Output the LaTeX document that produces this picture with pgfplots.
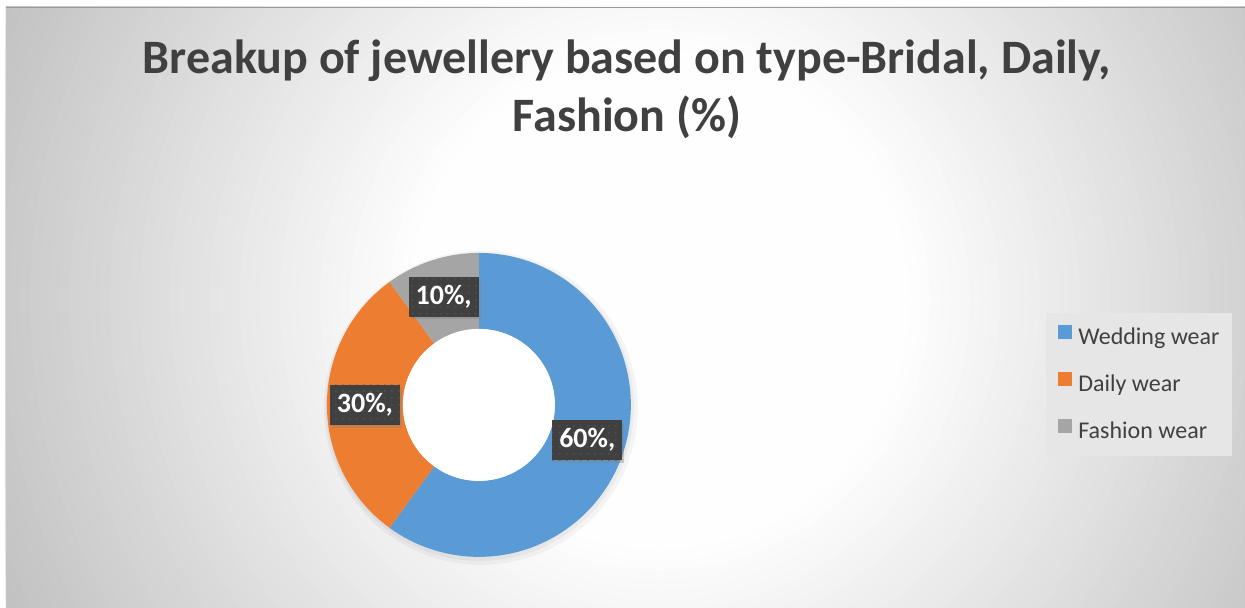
\documentclass[border=0pt]{standalone}
\usepackage{pgfplots}
\pgfplotsset{compat=1.18}
\usepackage{pgfplotstable}
\usepackage{fontspec}
\setmainfont{Carlito}
\usetikzlibrary{shadows, patterns.meta}

\definecolor{wedding}{HTML}{5B9BD5}
\definecolor{daily}{HTML}{ED7D31}
\definecolor{fashion}{HTML}{A5A5A5}
\definecolor{txt}{HTML}{404040}
\definecolor{dotc}{HTML}{565656}
\definecolor{edge}{HTML}{C2C2C2}
\definecolor{legbg}{HTML}{E6E6E6}

% share of each jewellery type (%)
\pgfplotstableread{
name value
Wedding 60
Daily 30
Fashion 10
}\jewel

\begin{document}
\begin{tikzpicture}
% background of the chart area: radial fade, white in the middle
\fill[white] (0pt,0pt) rectangle (1245pt,608pt);
\begin{scope}
\clip (6pt,0pt) rectangle (1245pt,601pt);
\foreach \k in {0,...,48} {
  \pgfmathsetmacro\rr{730-10*\k}
  \pgfmathsetmacro\pp{max(0,min(100,(\rr-245)/4.75))}
  \fill[edge!\pp!white] (660pt,308pt) circle[radius=\rr pt];
}
\end{scope}
\draw[edge!80!black, line width=0.6pt] (6pt,601pt) -- (1245pt,601pt);

% slice angles, clockwise from 12 o'clock
\pgfplotstablegetelem{0}{value}\of\jewel \let\vA\pgfplotsretval
\pgfplotstablegetelem{1}{value}\of\jewel \let\vB\pgfplotsretval
\pgfplotstablegetelem{2}{value}\of\jewel \let\vC\pgfplotsretval
\pgfmathsetmacro\aA{90}
\pgfmathsetmacro\aB{\aA-3.6*\vA}
\pgfmathsetmacro\aC{\aB-3.6*\vB}
\pgfmathsetmacro\aD{\aC-3.6*\vC}
\pgfmathsetmacro\mA{(\aA+\aB)/2}
\pgfmathsetmacro\mB{(\aB+\aC)/2}
\pgfmathsetmacro\mC{(\aC+\aD)/2}
\def\R{152pt}\def\r{76pt}\def\rm{114pt}
\begin{axis}[
    at={(0pt,0pt)}, anchor=south west,
    x=1pt, y=1pt,
    xmin=0, xmax=1245, ymin=0, ymax=608,
    scale only axis, hide axis, clip=false,
    legend cell align=left,
    legend image code/.code={\fill[#1] (0pt,0pt) rectangle (13pt,13pt);},
    legend style={at={(axis cs:1046,295)}, anchor=north west,
        draw=none, fill=legbg,
        font=\fontsize{24}{28}\selectfont, text=txt,
        inner xsep=12pt, inner ysep=12pt, row sep=23pt, column sep=7pt,
        nodes={inner sep=0pt, text height=17pt, text depth=5pt}},
]
\addlegendimage{wedding}\addlegendentry{Wedding wear}
\addlegendimage{daily}\addlegendentry{Daily wear}
\addlegendimage{fashion}\addlegendentry{Fashion wear}

% soft shadow of the ring
\fill[black, opacity=0.04] (axis cs:481,200) circle[radius=157pt];
\fill[black, opacity=0.04] (axis cs:480,201) circle[radius=154pt];

% donut
\fill[wedding] ([shift={(\aA:\R)}]axis cs:479,203) arc[start angle=\aA, end angle=\aB, radius=\R]
   -- ([shift={(\aB:\r)}]axis cs:479,203) arc[start angle=\aB, end angle=\aA, radius=\r] -- cycle;
\fill[daily] ([shift={(\aB:\R)}]axis cs:479,203) arc[start angle=\aB, end angle=\aC, radius=\R]
   -- ([shift={(\aC:\r)}]axis cs:479,203) arc[start angle=\aC, end angle=\aB, radius=\r] -- cycle;
\fill[fashion] ([shift={(\aC:\R)}]axis cs:479,203) arc[start angle=\aC, end angle=\aD, radius=\R]
   -- ([shift={(\aD:\r)}]axis cs:479,203) arc[start angle=\aD, end angle=\aC, radius=\r] -- cycle;
\fill[white] (axis cs:479,203) circle[radius=\r];

% data labels
\tikzset{lbl/.style={fill=txt, text=white, font=\fontsize{28}{32}\selectfont\bfseries,
    minimum width=70pt, minimum height=40pt, inner sep=0pt,
    postaction={pattern={Dots[distance=7pt, radius=0.9pt]}, pattern color=dotc},
    drop shadow={shadow xshift=2pt, shadow yshift=-3pt, opacity=0.35}}}
\node[lbl] at ([shift={(\mA:\rm)}]axis cs:479,203) {\vA\%,};
\node[lbl] at ([shift={(\mB:\rm)}]axis cs:479,203) {\vB\%,};
\node[lbl] at ([shift={(\mC:\rm)}]axis cs:479,203) {\vC\%,};

% title
\node[align=center, text=txt, font=\fontsize{48}{58}\selectfont\bfseries]
  at (axis cs:627,519) {Breakup of jewellery based on type-Bridal, Daily,\\Fashion (\%)};
\end{axis}
\end{tikzpicture}
\end{document}
